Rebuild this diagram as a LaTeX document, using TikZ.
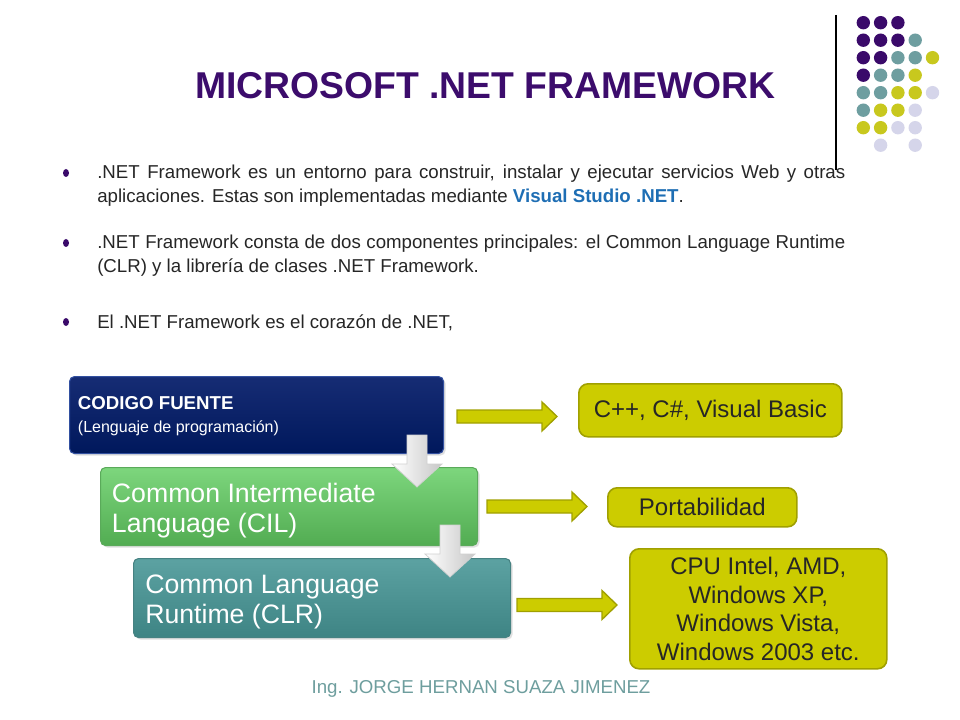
\documentclass[tikz,border=0pt]{standalone}
\usepackage{fontspec}
\setmainfont{Liberation Sans}
\usetikzlibrary{calc,shadows}

\definecolor{ttl}{RGB}{60,12,108}
\definecolor{dpur}{RGB}{58,10,106}
\definecolor{dteal}{RGB}{110,158,160}
\definecolor{dyel}{RGB}{200,200,30}
\definecolor{dlav}{RGB}{213,213,234}
\definecolor{vsblue}{RGB}{30,110,180}
\definecolor{foot}{RGB}{110,158,158}
\definecolor{navyT}{RGB}{22,44,116}
\definecolor{navyB}{RGB}{0,24,92}
\definecolor{navyE}{RGB}{50,80,160}
\definecolor{grT}{RGB}{125,214,125}
\definecolor{grB}{RGB}{82,172,82}
\definecolor{grE}{RGB}{90,170,90}
\definecolor{tlT}{RGB}{92,162,162}
\definecolor{tlB}{RGB}{62,132,132}
\definecolor{tlE}{RGB}{70,130,130}
\definecolor{olv}{RGB}{204,204,0}
\definecolor{olvD}{RGB}{160,160,0}

\newcommand\rblockarrow[2]{%
  \draw[rarrow] ($(#1)+(0,-6.5)$) -- ($(#2)+(-15,-6.5)$) -- ($(#2)+(-15,-14.5)$)
    -- (#2) -- ($(#2)+(-15,14.5)$) -- ($(#2)+(-15,6.5)$) -- ($(#1)+(0,6.5)$) -- cycle;}
\newcommand\dblockarrow[2]{%
  \draw[darrow] ($(#1)+(-10,0)$) -- ($(#1)+(10,0)$) -- ($(#2)+(10,-23)$) -- ($(#2)+(25,-23)$)
    -- (#2) -- ($(#2)+(-25,-23)$) -- ($(#2)+(-10,-23)$) -- cycle;}
\newcommand\mydot[3]{\fill[#3] ({863.3+17.3*(#1-1)},{22.7+17.5*(#2-1)}) circle[radius=6.7];}

\begin{document}
\begin{tikzpicture}[x=0.75pt,y=-0.75pt,
  lbox/.style={draw=#1, line width=0.8pt, rounded corners=3.75pt, anchor=north west, inner sep=0pt,
    drop shadow={shadow xshift=1.5pt, shadow yshift=-1.5pt, opacity=0.25}},
  rbox/.style={fill=olv, draw=olvD, line width=1.2pt, rounded corners=7pt, anchor=north west,
    inner sep=0pt, align=center, font=\fontsize{18}{21.4}\selectfont, text=black!85},
  rarrow/.style={fill=olv, draw=olvD, line width=1pt, line join=miter},
  darrow/.style={left color=white, right color=black!22, draw=black!18, line width=0.6pt},
  boxtxt/.style={anchor=base west, inner sep=0pt, text=white, align=left},
  para/.style={anchor=base west, inner sep=0pt, text width=561pt, align=justify,
    font=\fontsize{14}{18}\selectfont, text=black!85}]

\fill[white] (0,0) rectangle (960,720);

% decorative line and dots
\draw[black, line width=0.8pt] (836,15) -- (836,170);
\foreach \r/\row in {1/{dpur,dpur,dpur}, 2/{dpur,dpur,dpur,dteal}, 3/{dpur,dpur,dteal,dteal,dyel},
  4/{dpur,dteal,dteal,dyel}, 5/{dteal,dteal,dyel,dyel,dlav}, 6/{dteal,dyel,dyel,dlav},
  7/{dyel,dyel,dlav,dlav}, 8/{white,dlav,white,dlav}}{
  \foreach \cl [count=\c] in \row {\mydot{\c}{\r}{\cl}}
}

% title
\node[anchor=base, inner sep=0pt, text=ttl, font=\fontsize{28}{34}\selectfont\bfseries] (title) at (485.5,99) {MICROSOFT .NET FRAMEWORK};

% bullets
\fill[dpur] (66,173) ellipse[x radius=3, y radius=4];
\fill[dpur] (66,243) ellipse[x radius=3, y radius=4];
\fill[dpur] (66,322) ellipse[x radius=3, y radius=4];
\node[para] (p1) at (97,179) {.NET Framework es un entorno para construir, instalar y ejecutar servicios Web y otras\linebreak aplicaciones. Estas son implementadas mediante {\color{vsblue}\bfseries Visual Studio .NET}.};
\node[para] (p2) at (97,249) {.NET Framework consta de dos componentes principales: el Common Language Runtime\linebreak (CLR) y la librería de clases .NET Framework.};
\node[para] (p3) at (97,328) {El .NET Framework es el corazón de .NET,};

% left boxes
\node[lbox=navyE, top color=navyT, bottom color=navyB, minimum width={374*0.75pt}, minimum height={77*0.75pt}] (b1) at (69,376) {};
\node[boxtxt, font=\fontsize{14}{16}\selectfont\bfseries] (t1a) at (77.7,409) {CODIGO FUENTE};
\node[boxtxt, font=\fontsize{12}{14}\selectfont] (t1b) at (77.7,432) {(Lenguaje de programación)};

\node[lbox=grE, top color=grT, bottom color=grB, minimum width={377*0.75pt}, minimum height={78*0.75pt}] (b2) at (100,467) {};
\node[boxtxt, font=\fontsize{20}{22.5}\selectfont] (t2) at (111.7,532) {Common Intermediate\\Language (CIL)};

\coordinate (d1s) at (417,435);
\coordinate (d1e) at (417,487);
\dblockarrow{d1s}{d1e}

\node[lbox=tlE, top color=tlT, bottom color=tlB, minimum width={377*0.75pt}, minimum height={79*0.75pt}] (b3) at (133,558) {};
\node[boxtxt, font=\fontsize{20}{22.5}\selectfont] (t3) at (145,623.3) {Common Language\\Runtime (CLR)};

\coordinate (d2s) at (450,525);
\coordinate (d2e) at (450,577);
\dblockarrow{d2s}{d2e}

% right boxes
\node[rbox, minimum width={263*0.75pt}, minimum height={53*0.75pt}] (ba) at (578,383) {};
\node[font=\fontsize{18}{21.4}\selectfont, text=black!85] (ta) at (ba.center) {C++, C\#, Visual Basic};
\node[rbox, minimum width={189*0.75pt}, minimum height={39*0.75pt}] (bb) at (607,487) {};
\node[font=\fontsize{18}{21.4}\selectfont, text=black!85] (tb) at (bb.center) {Portabilidad};
\node[rbox, minimum width={257*0.75pt}, minimum height={120*0.75pt}] (bc) at (629,548) {};
\node[font=\fontsize{18}{21.4}\selectfont, text=black!85, align=center] (tc) at (bc.center) {CPU Intel, AMD,\\Windows XP,\\Windows Vista,\\Windows 2003 etc.};

% right arrows
\coordinate (r1s) at (457,416.5);
\coordinate (r1e) at (557,416.5);
\rblockarrow{r1s}{r1e}
\coordinate (r2s) at (487,506.5);
\coordinate (r2e) at (587,506.5);
\rblockarrow{r2s}{r2e}
\coordinate (r3s) at (517,605);
\coordinate (r3e) at (617,605);
\rblockarrow{r3s}{r3e}

% footer
\node[anchor=base, inner sep=0pt, text=foot, font=\fontsize{14}{16}\selectfont] (footer) at (481,693) {Ing. JORGE HERNAN SUAZA JIMENEZ};

\end{tikzpicture}
\end{document}
